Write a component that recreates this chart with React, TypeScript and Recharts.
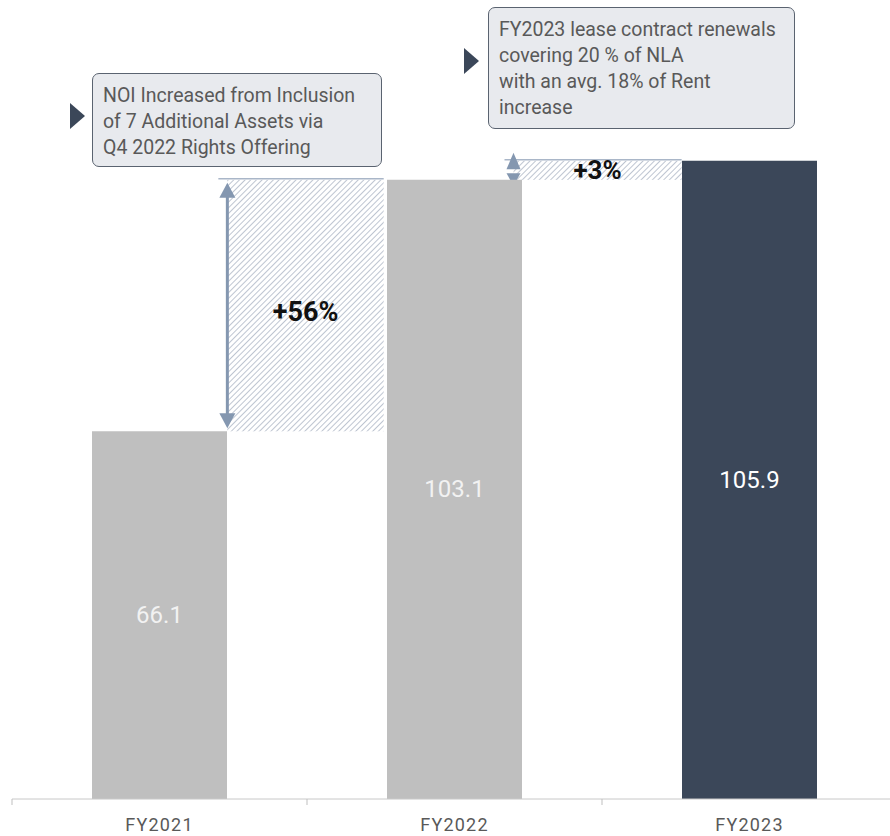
import React from 'react';
import { BarChart, Bar, XAxis, YAxis, ReferenceArea, LabelList, Cell } from 'recharts';

const FONT = 'Roboto, "DejaVu Sans", sans-serif';

// NOI by fiscal year
const years = ['FY2021', 'FY2022', 'FY2023'];
const noi = [66.1, 103.1, 105.9];
const barColors = ['#bfbfbf', '#bfbfbf', '#3b4759'];
const valueColors = ['#f2f2f2', '#f2f2f2', '#ffffff'];

// growth steps between consecutive years
const growthLabels = ['+56%', '+3%'];
// horizontal span of each hatched step, in category units (0..3)
const growthSpanX = [
  [0.73, 1.26],
  [1.70, 2.27],
];

// callout notes
const noteTopLines = [
  'NOI Increased from Inclusion',
  'of 7 Additional Assets via',
  'Q4 2022 Rights Offering',
];
const noteRightLines = [
  'FY2023 lease contract renewals',
  'covering 20 % of NLA',
  'with an avg. 18% of Rent',
  'increase',
];

// pos = centre of each category in category units
const data = years.map((year, i) => ({ year, noi: noi[i], pos: i + 0.5 }));

function YearTick(props: any) {
  const { x, y, payload } = props;
  const half = payload.offset ?? 0;
  return (
    <g>
      <line x1={x - half} x2={x - half} y1={y - 8} y2={y - 2} stroke="#bfbfbf" />
      <text
        x={x}
        y={y + 24}
        textAnchor="middle"
        fill="#595959"
        fontSize={18}
        letterSpacing={1.2}
        fontFamily={FONT}
      >
        {payload.value}
      </text>
    </g>
  );
}

function GrowthBand(props: any) {
  const { x, y, width, height, label } = props;
  const arrow = '#8497b0';
  const small = height < 60;
  return (
    <g>
      <rect x={x} y={y} width={width} height={height} fill="url(#hatch)" />
      <line x1={x - 9} x2={x + width} y1={y - 1} y2={y - 1} stroke="#a9b6c8" strokeWidth={1.5} />
      {small ? (
        <g fill={arrow}>
          <polygon points={`${x - 7},${y + height / 2 - 1} ${x + 7},${y + height / 2 - 1} ${x},${y - 8}`} />
          <polygon points={`${x - 7},${y + height / 2 + 3} ${x + 7},${y + height / 2 + 3} ${x},${y + height + 6}`} />
        </g>
      ) : (
        <g>
          <line x1={x} x2={x} y1={y + 10} y2={y + height - 10} stroke={arrow} strokeWidth={3} />
          <polygon fill={arrow} points={`${x - 8},${y + 18} ${x + 8},${y + 18} ${x},${y + 3}`} />
          <polygon fill={arrow} points={`${x - 8},${y + height - 18} ${x + 8},${y + height - 18} ${x},${y + height - 3}`} />
        </g>
      )}
      <text
        x={x + width / 2}
        y={y + height / 2 + (small ? 0 : 6)}
        textAnchor="middle"
        dominantBaseline="central"
        fontSize={small ? 26 : 27}
        fontWeight={700}
        fill="#111"
        fontFamily={FONT}
      >
        {label}
      </text>
    </g>
  );
}

function Note({ lines, left, top, width, height, tri }: any) {
  return (
    <>
      <svg style={{ position: 'absolute', left: tri[0], top: tri[1], overflow: 'visible' }} width={16} height={26}>
        <polygon points="0,0 15,13 0,26" fill="#3b4759" />
      </svg>
      <div
        style={{
          position: 'absolute',
          left,
          top,
          width,
          height,
          boxSizing: 'border-box',
          background: '#e8eaee',
          border: '1.5px solid #5a6370',
          borderRadius: 7,
          padding: '9px 0 0 10px',
          fontFamily: FONT,
          fontSize: 19.5,
          lineHeight: '26px',
          color: '#595959',
          whiteSpace: 'nowrap',
        }}
      >
        {lines.map((l: string) => (
          <div key={l}>{l}</div>
        ))}
      </div>
    </>
  );
}

export default function App() {
  return (
    <div style={{ position: 'absolute', left: 0, top: 0, width: 890, height: 836, overflow: 'hidden', background: '#fff' }}>
      <BarChart
        width={897}
        height={836}
        data={data}
        margin={{ top: 65, right: 0, left: 12, bottom: 0 }}
        barSize={135}
      >
        <defs>
          <pattern id="hatch" patternUnits="userSpaceOnUse" width={4} height={4} patternTransform="rotate(45)">
            <rect width={4} height={4} fill="#ffffff" />
            <line x1={0} y1={0} x2={0} y2={4} stroke="#a8b2c2" strokeWidth={1.5} />
          </pattern>
        </defs>
        <XAxis
          dataKey="year"
          axisLine={{ stroke: '#c8c8c8' }}
          tickLine={false}
          tick={<YearTick />}
          height={37}
          interval={0}
        />
        <XAxis xAxisId="num" dataKey="pos" type="number" domain={[0, 3]} allowDataOverflow hide />
        <YAxis hide domain={[12, 120]} />
        <Bar dataKey="noi" isAnimationActive={false}>
          {data.map((d, i) => (
            <Cell key={d.year} fill={barColors[i]} />
          ))}
          <LabelList
            dataKey="noi"
            position="center"
            content={(p: any) => (
              <text
                x={p.x + p.width / 2}
                y={p.y + p.height / 2}
                textAnchor="middle"
                dominantBaseline="central"
                fontSize={24}
                fill={valueColors[p.index]}
                fontFamily={FONT}
              >
                {Number(p.value).toFixed(1)}
              </text>
            )}
          />
        </Bar>
        {growthLabels.map((label, i) => (
          <ReferenceArea
            key={label}
            xAxisId="num"
            x1={growthSpanX[i][0]}
            x2={growthSpanX[i][1]}
            y1={noi[i]}
            y2={noi[i + 1]}
            ifOverflow="visible"
            shape={(p: any) => <GrowthBand {...p} label={label} />}
          />
        ))}
      </BarChart>
      <Note lines={noteTopLines} left={92} top={73} width={290} height={94} tri={[70, 103]} />
      <Note lines={noteRightLines} left={488} top={7} width={307} height={122} tri={[464, 48]} />
    </div>
  );
}
